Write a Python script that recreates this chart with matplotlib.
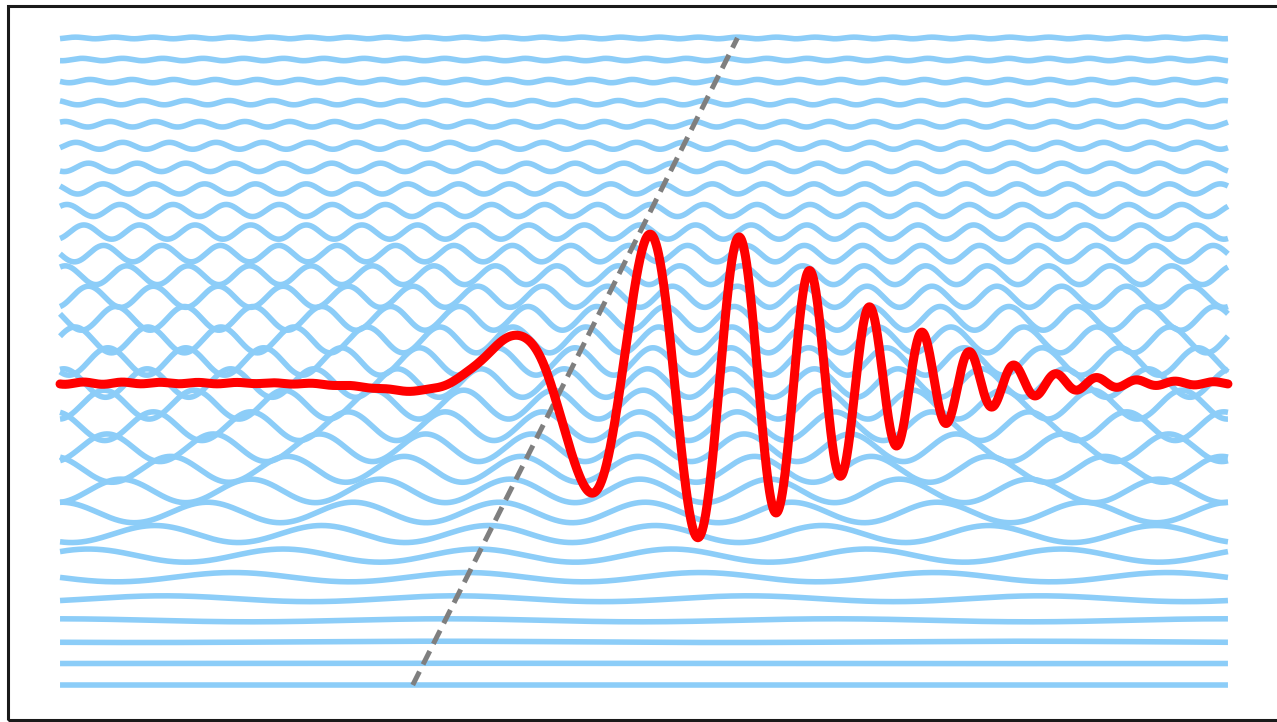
import numpy as np
import matplotlib.pyplot as plt
from matplotlib.patches import Rectangle

# -------------------------------
# DATA
# -------------------------------
# one wave per row, row n has n cycles across the domain x in [0, 1]
CYCLES = list(range(31))

# drawn amplitude of each row (in row spacings), bottom row first
AMPS = [0.000, 0.008, 0.030, 0.070, 0.135, 0.215, 0.305, 0.395, 0.475, 0.545,
        0.600, 0.640, 0.665, 0.670, 0.660, 0.635, 0.600, 0.550, 0.490, 0.435,
        0.380, 0.330, 0.280, 0.235, 0.195, 0.160, 0.128, 0.100, 0.076, 0.055,
        0.038]

# dashed phase front: x where it crosses the bottom and the top row
FRONT_ROWS = [0, 30]
FRONT_X = [0.302, 0.580]

SUM_ROW = 14      # baseline of the summed signal
SUM_GAIN = 1.47   # vertical scale of the summed signal

# -------------------------------
# FIGURA
# -------------------------------
fig = plt.figure(figsize=(12.77, 7.22), dpi=100)
ax = fig.add_axes([0, 0, 1, 1])
ax.set_xlim(-0.0514, 1.0420)
ax.set_ylim(-1.715, 31.76)
ax.axis("off")

x = np.linspace(0, 1, 3000)
total = np.zeros_like(x)

# cada fila tiene una cresta justo sobre la linea discontinua
crest_x = np.interp(CYCLES, FRONT_ROWS, FRONT_X)

for n, a, xc in zip(CYCLES, AMPS, crest_x):
    wave = a * np.cos(2 * np.pi * n * (x - xc))
    total += wave
    ax.plot(x, n + wave, color="#8ccdf8", lw=4.0, solid_capstyle="butt", zorder=1)

# frente de fase (linea discontinua)
ax.plot(FRONT_X, FRONT_ROWS, color="#7f7f7f", lw=3.6, linestyle=(0, (3.0, 1.6)), zorder=2)

# suma de todas las ondas
ax.plot(x, SUM_ROW + SUM_GAIN * total, color="#ff0000", lw=6.5,
        solid_capstyle="round", zorder=3)

# marco
fig.patches.append(Rectangle((0.0066, 0.0028), 1.2, 0.9889, transform=fig.transFigure,
                             fill=False, edgecolor="#1a1a1a", lw=2.2))

fig.savefig("out.png", dpi=100)
